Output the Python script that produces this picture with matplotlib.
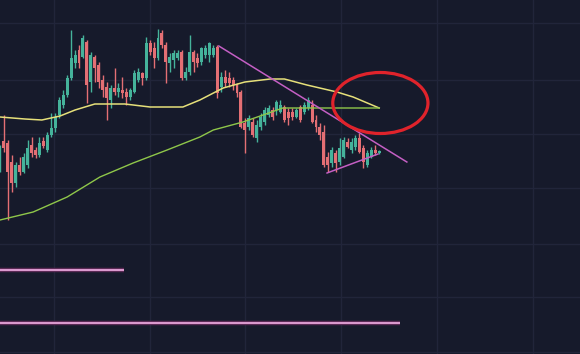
import matplotlib

matplotlib.use("Agg")

import matplotlib.pyplot as plt
import numpy as np
from matplotlib.patches import Ellipse

# candle OHLC, one entry per bar (index 0..96)
opens = [186, 213, 211, 192, 171, 189, 182, 189, 209, 204, 199, 213, 204, 219, 226, 239, 249, 259, 276, 291,
         304, 297, 312, 272, 297, 289, 274, 267, 254, 266, 262, 264, 262, 257, 262, 274, 281, 276, 311, 306,
         296, 321, 309, 291, 294, 296, 302, 276, 282, 302, 296, 292, 299, 299, 299, 307, 267, 277, 276, 274,
         269, 262, 231, 227, 232, 216, 227, 232, 239, 244, 244, 242, 247, 242, 242, 237, 247, 242, 246, 249,
         234, 227, 222, 197, 191, 201, 192, 197, 212, 204, 207, 216, 206, 189, 197, 204, 201]
highs = [209, 239, 214, 199, 192, 197, 201, 214, 217, 207, 217, 217, 222, 241, 241, 257, 264, 279, 324, 304,
         309, 319, 314, 302, 299, 292, 279, 272, 269, 286, 271, 277, 266, 266, 284, 286, 282, 317, 314, 312,
         325, 324, 312, 301, 304, 304, 304, 287, 319, 304, 301, 307, 309, 312, 309, 309, 282, 284, 282, 277,
         271, 264, 236, 239, 236, 234, 241, 247, 249, 247, 254, 254, 249, 246, 246, 246, 249, 252, 257, 254,
         239, 231, 229, 202, 207, 204, 216, 217, 216, 216, 219, 221, 209, 204, 207, 209, 204]
lows = [182, 202, 134, 162, 167, 179, 181, 186, 197, 196, 197, 206, 202, 217, 222, 236, 246, 257, 274, 286,
        286, 296, 251, 262, 272, 266, 257, 234, 246, 259, 257, 256, 249, 254, 261, 272, 269, 274, 299, 286,
        294, 306, 271, 282, 286, 294, 274, 274, 279, 282, 287, 289, 296, 292, 297, 256, 262, 267, 267, 264,
        257, 226, 201, 224, 217, 212, 224, 229, 237, 234, 239, 241, 232, 229, 234, 236, 232, 240, 244, 231,
        222, 214, 187, 182, 187, 182, 189, 196, 206, 201, 204, 201, 186, 187, 196, 199, 200]
closes = [206, 206, 182, 171, 189, 182, 197, 206, 201, 199, 211, 208, 219, 226, 237, 254, 259, 276, 296, 299,
          291, 316, 269, 299, 286, 272, 264, 256, 266, 262, 266, 261, 257, 264, 281, 282, 276, 311, 302, 296,
          316, 309, 292, 297, 301, 301, 276, 282, 302, 292, 291, 306, 306, 311, 306, 261, 277, 271, 271, 269,
          261, 227, 224, 236, 219, 229, 237, 244, 246, 237, 252, 249, 234, 236, 237, 244, 234, 249, 254, 232,
          227, 219, 189, 189, 204, 191, 206, 214, 207, 212, 216, 202, 192, 201, 204, 201, 203]

# moving averages (vertices of the drawn polylines)
ma_slow_x = [0, 6.3, 10.6, 15.2, 19, 24, 31.6, 38, 46.3, 50.6, 56.5, 62, 68.4, 72, 77.7, 85.3, 89.4, 93, 96]
ma_slow_y = [237, 235, 234, 238, 244, 250, 250, 247, 247, 254, 266, 272, 275, 275, 269, 262, 257, 251, 246]
ma_long_x = [0, 8.4, 17, 25.3, 33.7, 42.3, 50.6, 54, 61.5, 66.6, 71.6, 96]
ma_long_y = [134, 142, 157, 177, 191, 204, 217, 224, 232, 239, 246, 246]

# drawn annotations
trend_hi_x = [55.4, 103]
trend_hi_y = [308, 192]
trend_lo_x = [82.8, 95.7]
trend_lo_y = [181, 200]
level_x_end = [31.4, 101.3]
level_y = [84, 31]

BG = "#161a2b"
UP = "#45b39b"
DOWN = "#e46f74"

fig = plt.figure(figsize=(5.8, 3.54), dpi=100, facecolor=BG)
ax = fig.add_axes([0, 0, 1, 1], facecolor=BG)
ax.set_xlim(0, 146.84)
ax.set_ylim(0, 354)

for x in [13.7, 38.0, 62.0, 86.3, 110.6, 134.9]:
    ax.axvline(x, color="#21253a", lw=1, zorder=0)
for y in [331, 274, 220, 166, 110, 57, 2]:
    ax.axhline(y, color="#21253a", lw=1, zorder=0)

idx = np.arange(len(opens))
o = np.array(opens, dtype=float)
c = np.array(closes, dtype=float)
colors = [UP if cc >= oo else DOWN for oo, cc in zip(o, c)]
ax.vlines(idx, lows, highs, colors=colors, lw=1.0, zorder=2)
bottoms = np.minimum(o, c)
heights = np.maximum(np.abs(c - o), 1.5)
ax.bar(idx, heights, bottom=bottoms, width=0.74, color=colors, lw=0, zorder=3)

ax.plot(ma_slow_x, ma_slow_y, color="#e6e07a", lw=1.1, zorder=4)
ax.plot(ma_long_x, ma_long_y, color="#8fc74a", lw=1.0, zorder=4)

ax.plot(trend_hi_x, trend_hi_y, color="#c45fc4", lw=1.1, zorder=5)
ax.plot(trend_lo_x, trend_lo_y, color="#c45fc4", lw=1.1, zorder=5)

for xe, y in zip(level_x_end, level_y):
    ax.plot([0, xe], [y, y], color="#5a2a55", lw=3.2, solid_capstyle="butt", zorder=5)
    ax.plot([0, xe], [y, y], color="#e8a6dc", lw=1.3, solid_capstyle="butt", zorder=6)

ax.add_patch(Ellipse((96.3, 251), 24.1, 61, fill=False, edgecolor="#e0232b", lw=2.3, zorder=6))

ax.set_axis_off()
fig.savefig("out.png", dpi=100, facecolor=BG)
